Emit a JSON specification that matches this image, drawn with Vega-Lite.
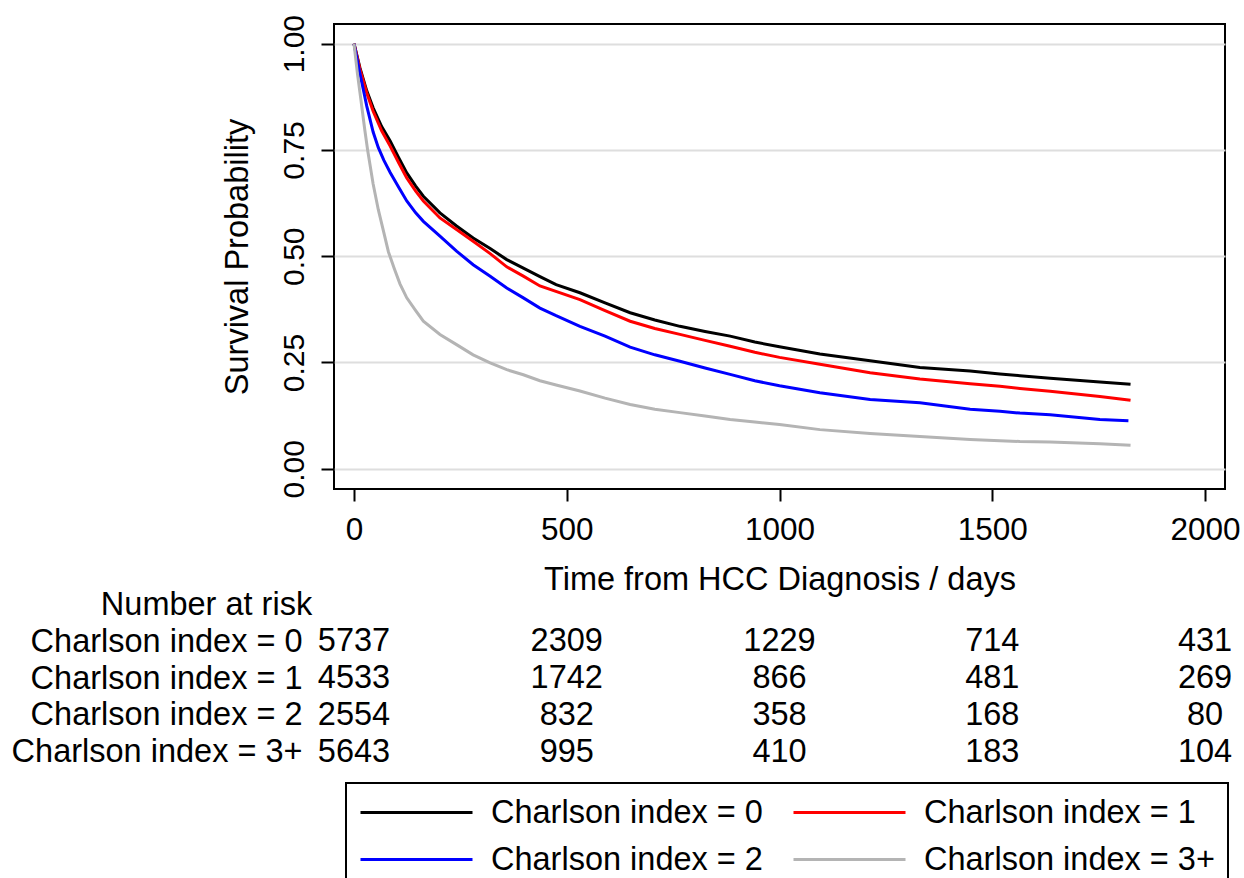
{
  "$schema": "https://vega.github.io/schema/vega-lite/v6.json",
  "padding": {"left": 11, "top": 13, "right": 5, "bottom": 0},
  "background": "white",
  "config": {
    "font": "Liberation Sans",
    "axis": {"labelFont": "Liberation Sans", "titleFont": "Liberation Sans", "labelColor": "black", "titleColor": "black", "titleFontWeight": "normal"},
    "legend": {"labelFont": "Liberation Sans"}
  },
  "datasets": {
    "curves": [
      {"grp": "Charlson index = 0", "t": 0, "s": 1.0},
      {"grp": "Charlson index = 0", "t": 14, "s": 0.943},
      {"grp": "Charlson index = 0", "t": 30, "s": 0.889},
      {"grp": "Charlson index = 0", "t": 45, "s": 0.849},
      {"grp": "Charlson index = 0", "t": 65, "s": 0.805},
      {"grp": "Charlson index = 0", "t": 85, "s": 0.771},
      {"grp": "Charlson index = 0", "t": 105, "s": 0.732},
      {"grp": "Charlson index = 0", "t": 124, "s": 0.696},
      {"grp": "Charlson index = 0", "t": 145, "s": 0.665},
      {"grp": "Charlson index = 0", "t": 163, "s": 0.641},
      {"grp": "Charlson index = 0", "t": 202, "s": 0.602},
      {"grp": "Charlson index = 0", "t": 241, "s": 0.571},
      {"grp": "Charlson index = 0", "t": 280, "s": 0.543},
      {"grp": "Charlson index = 0", "t": 320, "s": 0.518},
      {"grp": "Charlson index = 0", "t": 359, "s": 0.492},
      {"grp": "Charlson index = 0", "t": 398, "s": 0.472},
      {"grp": "Charlson index = 0", "t": 437, "s": 0.452},
      {"grp": "Charlson index = 0", "t": 475, "s": 0.433},
      {"grp": "Charlson index = 0", "t": 531, "s": 0.414},
      {"grp": "Charlson index = 0", "t": 590, "s": 0.39},
      {"grp": "Charlson index = 0", "t": 649, "s": 0.367},
      {"grp": "Charlson index = 0", "t": 707, "s": 0.35},
      {"grp": "Charlson index = 0", "t": 766, "s": 0.335},
      {"grp": "Charlson index = 0", "t": 825, "s": 0.323},
      {"grp": "Charlson index = 0", "t": 884, "s": 0.312},
      {"grp": "Charlson index = 0", "t": 942, "s": 0.298},
      {"grp": "Charlson index = 0", "t": 1000, "s": 0.287},
      {"grp": "Charlson index = 0", "t": 1095, "s": 0.27},
      {"grp": "Charlson index = 0", "t": 1213, "s": 0.254},
      {"grp": "Charlson index = 0", "t": 1330, "s": 0.238},
      {"grp": "Charlson index = 0", "t": 1448, "s": 0.23},
      {"grp": "Charlson index = 0", "t": 1518, "s": 0.223},
      {"grp": "Charlson index = 0", "t": 1565, "s": 0.219},
      {"grp": "Charlson index = 0", "t": 1636, "s": 0.213},
      {"grp": "Charlson index = 0", "t": 1753, "s": 0.204},
      {"grp": "Charlson index = 0", "t": 1825, "s": 0.199},
      {"grp": "Charlson index = 1", "t": 0, "s": 1.0},
      {"grp": "Charlson index = 1", "t": 14, "s": 0.94},
      {"grp": "Charlson index = 1", "t": 30, "s": 0.884},
      {"grp": "Charlson index = 1", "t": 45, "s": 0.841},
      {"grp": "Charlson index = 1", "t": 65, "s": 0.795},
      {"grp": "Charlson index = 1", "t": 85, "s": 0.759},
      {"grp": "Charlson index = 1", "t": 105, "s": 0.72},
      {"grp": "Charlson index = 1", "t": 124, "s": 0.684},
      {"grp": "Charlson index = 1", "t": 145, "s": 0.653},
      {"grp": "Charlson index = 1", "t": 163, "s": 0.63},
      {"grp": "Charlson index = 1", "t": 202, "s": 0.59},
      {"grp": "Charlson index = 1", "t": 241, "s": 0.563},
      {"grp": "Charlson index = 1", "t": 280, "s": 0.535},
      {"grp": "Charlson index = 1", "t": 320, "s": 0.506},
      {"grp": "Charlson index = 1", "t": 359, "s": 0.475},
      {"grp": "Charlson index = 1", "t": 398, "s": 0.453},
      {"grp": "Charlson index = 1", "t": 437, "s": 0.43},
      {"grp": "Charlson index = 1", "t": 531, "s": 0.398},
      {"grp": "Charlson index = 1", "t": 590, "s": 0.372},
      {"grp": "Charlson index = 1", "t": 649, "s": 0.347},
      {"grp": "Charlson index = 1", "t": 707, "s": 0.33},
      {"grp": "Charlson index = 1", "t": 766, "s": 0.316},
      {"grp": "Charlson index = 1", "t": 825, "s": 0.302},
      {"grp": "Charlson index = 1", "t": 884, "s": 0.288},
      {"grp": "Charlson index = 1", "t": 942, "s": 0.274},
      {"grp": "Charlson index = 1", "t": 1000, "s": 0.262},
      {"grp": "Charlson index = 1", "t": 1095, "s": 0.246},
      {"grp": "Charlson index = 1", "t": 1213, "s": 0.226},
      {"grp": "Charlson index = 1", "t": 1330, "s": 0.211},
      {"grp": "Charlson index = 1", "t": 1448, "s": 0.2},
      {"grp": "Charlson index = 1", "t": 1518, "s": 0.194},
      {"grp": "Charlson index = 1", "t": 1565, "s": 0.189},
      {"grp": "Charlson index = 1", "t": 1636, "s": 0.182},
      {"grp": "Charlson index = 1", "t": 1753, "s": 0.17},
      {"grp": "Charlson index = 1", "t": 1825, "s": 0.161},
      {"grp": "Charlson index = 2", "t": 0, "s": 1.0},
      {"grp": "Charlson index = 2", "t": 14, "s": 0.93},
      {"grp": "Charlson index = 2", "t": 30, "s": 0.853},
      {"grp": "Charlson index = 2", "t": 45, "s": 0.792},
      {"grp": "Charlson index = 2", "t": 57, "s": 0.756},
      {"grp": "Charlson index = 2", "t": 70, "s": 0.726},
      {"grp": "Charlson index = 2", "t": 85, "s": 0.697},
      {"grp": "Charlson index = 2", "t": 105, "s": 0.662},
      {"grp": "Charlson index = 2", "t": 124, "s": 0.63},
      {"grp": "Charlson index = 2", "t": 145, "s": 0.602},
      {"grp": "Charlson index = 2", "t": 163, "s": 0.582},
      {"grp": "Charlson index = 2", "t": 202, "s": 0.547},
      {"grp": "Charlson index = 2", "t": 241, "s": 0.512},
      {"grp": "Charlson index = 2", "t": 280, "s": 0.48},
      {"grp": "Charlson index = 2", "t": 320, "s": 0.453},
      {"grp": "Charlson index = 2", "t": 359, "s": 0.425},
      {"grp": "Charlson index = 2", "t": 398, "s": 0.402},
      {"grp": "Charlson index = 2", "t": 437, "s": 0.378},
      {"grp": "Charlson index = 2", "t": 475, "s": 0.36},
      {"grp": "Charlson index = 2", "t": 531, "s": 0.335},
      {"grp": "Charlson index = 2", "t": 590, "s": 0.312},
      {"grp": "Charlson index = 2", "t": 649, "s": 0.286},
      {"grp": "Charlson index = 2", "t": 707, "s": 0.268},
      {"grp": "Charlson index = 2", "t": 766, "s": 0.253},
      {"grp": "Charlson index = 2", "t": 825, "s": 0.237},
      {"grp": "Charlson index = 2", "t": 884, "s": 0.222},
      {"grp": "Charlson index = 2", "t": 942, "s": 0.207},
      {"grp": "Charlson index = 2", "t": 1000, "s": 0.195},
      {"grp": "Charlson index = 2", "t": 1095, "s": 0.179},
      {"grp": "Charlson index = 2", "t": 1213, "s": 0.163},
      {"grp": "Charlson index = 2", "t": 1330, "s": 0.155},
      {"grp": "Charlson index = 2", "t": 1448, "s": 0.14},
      {"grp": "Charlson index = 2", "t": 1518, "s": 0.135},
      {"grp": "Charlson index = 2", "t": 1565, "s": 0.131},
      {"grp": "Charlson index = 2", "t": 1636, "s": 0.127},
      {"grp": "Charlson index = 2", "t": 1753, "s": 0.116},
      {"grp": "Charlson index = 2", "t": 1820, "s": 0.113},
      {"grp": "Charlson index = 3+", "t": 0, "s": 1.0},
      {"grp": "Charlson index = 3+", "t": 8, "s": 0.93},
      {"grp": "Charlson index = 3+", "t": 16, "s": 0.87},
      {"grp": "Charlson index = 3+", "t": 25, "s": 0.8},
      {"grp": "Charlson index = 3+", "t": 32, "s": 0.75},
      {"grp": "Charlson index = 3+", "t": 45, "s": 0.67},
      {"grp": "Charlson index = 3+", "t": 57, "s": 0.61},
      {"grp": "Charlson index = 3+", "t": 69, "s": 0.56},
      {"grp": "Charlson index = 3+", "t": 81, "s": 0.51},
      {"grp": "Charlson index = 3+", "t": 95, "s": 0.47},
      {"grp": "Charlson index = 3+", "t": 108, "s": 0.435},
      {"grp": "Charlson index = 3+", "t": 124, "s": 0.402},
      {"grp": "Charlson index = 3+", "t": 145, "s": 0.372},
      {"grp": "Charlson index = 3+", "t": 163, "s": 0.347},
      {"grp": "Charlson index = 3+", "t": 202, "s": 0.316},
      {"grp": "Charlson index = 3+", "t": 241, "s": 0.292},
      {"grp": "Charlson index = 3+", "t": 280, "s": 0.268},
      {"grp": "Charlson index = 3+", "t": 320, "s": 0.249},
      {"grp": "Charlson index = 3+", "t": 359, "s": 0.233},
      {"grp": "Charlson index = 3+", "t": 398, "s": 0.221},
      {"grp": "Charlson index = 3+", "t": 437, "s": 0.207},
      {"grp": "Charlson index = 3+", "t": 475, "s": 0.197},
      {"grp": "Charlson index = 3+", "t": 531, "s": 0.183},
      {"grp": "Charlson index = 3+", "t": 590, "s": 0.166},
      {"grp": "Charlson index = 3+", "t": 649, "s": 0.151},
      {"grp": "Charlson index = 3+", "t": 707, "s": 0.14},
      {"grp": "Charlson index = 3+", "t": 766, "s": 0.132},
      {"grp": "Charlson index = 3+", "t": 825, "s": 0.124},
      {"grp": "Charlson index = 3+", "t": 884, "s": 0.116},
      {"grp": "Charlson index = 3+", "t": 942, "s": 0.11},
      {"grp": "Charlson index = 3+", "t": 1000, "s": 0.104},
      {"grp": "Charlson index = 3+", "t": 1095, "s": 0.092},
      {"grp": "Charlson index = 3+", "t": 1213, "s": 0.083},
      {"grp": "Charlson index = 3+", "t": 1330, "s": 0.076},
      {"grp": "Charlson index = 3+", "t": 1448, "s": 0.069},
      {"grp": "Charlson index = 3+", "t": 1518, "s": 0.066},
      {"grp": "Charlson index = 3+", "t": 1565, "s": 0.064},
      {"grp": "Charlson index = 3+", "t": 1636, "s": 0.063},
      {"grp": "Charlson index = 3+", "t": 1753, "s": 0.059},
      {"grp": "Charlson index = 3+", "t": 1825, "s": 0.055}
    ],
    "risk": [
      {"grp": "Charlson index = 0", "t": 0, "n": 5737},
      {"grp": "Charlson index = 0", "t": 500, "n": 2309},
      {"grp": "Charlson index = 0", "t": 1000, "n": 1229},
      {"grp": "Charlson index = 0", "t": 1500, "n": 714},
      {"grp": "Charlson index = 0", "t": 2000, "n": 431},
      {"grp": "Charlson index = 1", "t": 0, "n": 4533},
      {"grp": "Charlson index = 1", "t": 500, "n": 1742},
      {"grp": "Charlson index = 1", "t": 1000, "n": 866},
      {"grp": "Charlson index = 1", "t": 1500, "n": 481},
      {"grp": "Charlson index = 1", "t": 2000, "n": 269},
      {"grp": "Charlson index = 2", "t": 0, "n": 2554},
      {"grp": "Charlson index = 2", "t": 500, "n": 832},
      {"grp": "Charlson index = 2", "t": 1000, "n": 358},
      {"grp": "Charlson index = 2", "t": 1500, "n": 168},
      {"grp": "Charlson index = 2", "t": 2000, "n": 80},
      {"grp": "Charlson index = 3+", "t": 0, "n": 5643},
      {"grp": "Charlson index = 3+", "t": 500, "n": 995},
      {"grp": "Charlson index = 3+", "t": 1000, "n": 410},
      {"grp": "Charlson index = 3+", "t": 1500, "n": 183},
      {"grp": "Charlson index = 3+", "t": 2000, "n": 104}
    ]
  },
  "bounds": "flush",
  "spacing": 134,
  "vconcat": [
    {
      "width": 891,
      "height": 465,
      "view": {"stroke": "black", "strokeWidth": 2},
      "data": {"name": "curves"},
      "mark": {"type": "line", "strokeWidth": 3, "interpolate": "linear", "clip": true},
      "encoding": {
        "x": {
          "field": "t", "type": "quantitative",
          "scale": {"domain": [-47, 2047], "nice": false, "zero": false},
          "axis": {
            "values": [0, 500, 1000, 1500, 2000], "format": "d", "title": "Time from HCC Diagnosis / days",
            "domain": false, "grid": false, "tickSize": 12, "tickWidth": 2, "tickColor": "black",
            "labelFontSize": 31.5, "titleFontSize": 32.5, "labelPadding": 13, "titlePadding": 18,
            "labelFlush": false, "labelOverlap": false
          }
        },
        "y": {
          "field": "s", "type": "quantitative",
          "scale": {"domain": [-0.0477, 1.0463], "nice": false, "zero": false},
          "axis": {
            "values": [0, 0.25, 0.5, 0.75, 1], "format": ".2f", "title": "Survival Probability",
            "domain": false, "grid": true, "gridColor": "#dedede", "gridWidth": 2,
            "tickSize": 13, "tickWidth": 2, "tickColor": "black",
            "labelAngle": -90, "labelAlign": "center", "labelBaseline": "alphabetic",
            "labelPadding": 18, "labelFontSize": 30, "titleFontSize": 32.5, "titlePadding": 25,
            "labelFlush": false, "labelOverlap": false
          }
        },
        "color": {
          "field": "grp", "type": "nominal",
          "scale": {
            "domain": ["Charlson index = 0", "Charlson index = 1", "Charlson index = 2", "Charlson index = 3+"],
            "range": ["#000000", "#ff0000", "#0000ff", "#b4b4b4"]
          },
          "legend": {
            "orient": "none", "legendX": 12, "legendY": 759, "title": null, "columns": 2, "direction": "horizontal",
            "symbolType": "stroke", "symbolSize": 12544, "symbolStrokeWidth": 3, "clipHeight": 33,
            "labelFontSize": 32.5, "labelOffset": 17, "labelLimit": 0, "labelColor": "black",
            "strokeColor": "black", "padding": 13, "columnPadding": 29, "rowPadding": 14,
            "symbolOffset": 0,
            "encode": {"legend": {"update": {"strokeWidth": {"value": 2}}}}
          }
        }
      }
    },
    {
      "width": 891,
      "height": 147,
      "view": {"stroke": null},
      "data": {"name": "risk"},
      "mark": {"type": "text", "fontSize": 32.5, "color": "black", "baseline": "middle", "align": "center"},
      "encoding": {
        "x": {
          "field": "t", "type": "quantitative",
          "scale": {"domain": [-47, 2047], "nice": false, "zero": false},
          "axis": null
        },
        "y": {
          "field": "grp", "type": "nominal",
          "sort": ["Charlson index = 0", "Charlson index = 1", "Charlson index = 2", "Charlson index = 3+"],
          "axis": {
            "title": "Number at risk", "titleAngle": 0, "titleAlign": "center", "titleBaseline": "middle",
            "titleX": -128, "titleY": -19, "titleFontSize": 32.5,
            "domain": false, "ticks": false, "tickSize": 0, "grid": false,
            "labelFontSize": 32.5, "labelPadding": 32, "labelLimit": 0, "labelAlign": "right"
          }
        },
        "text": {"field": "n", "type": "quantitative"}
      }
    }
  ],
  "resolve": {"scale": {"x": "independent", "y": "independent"}}
}
